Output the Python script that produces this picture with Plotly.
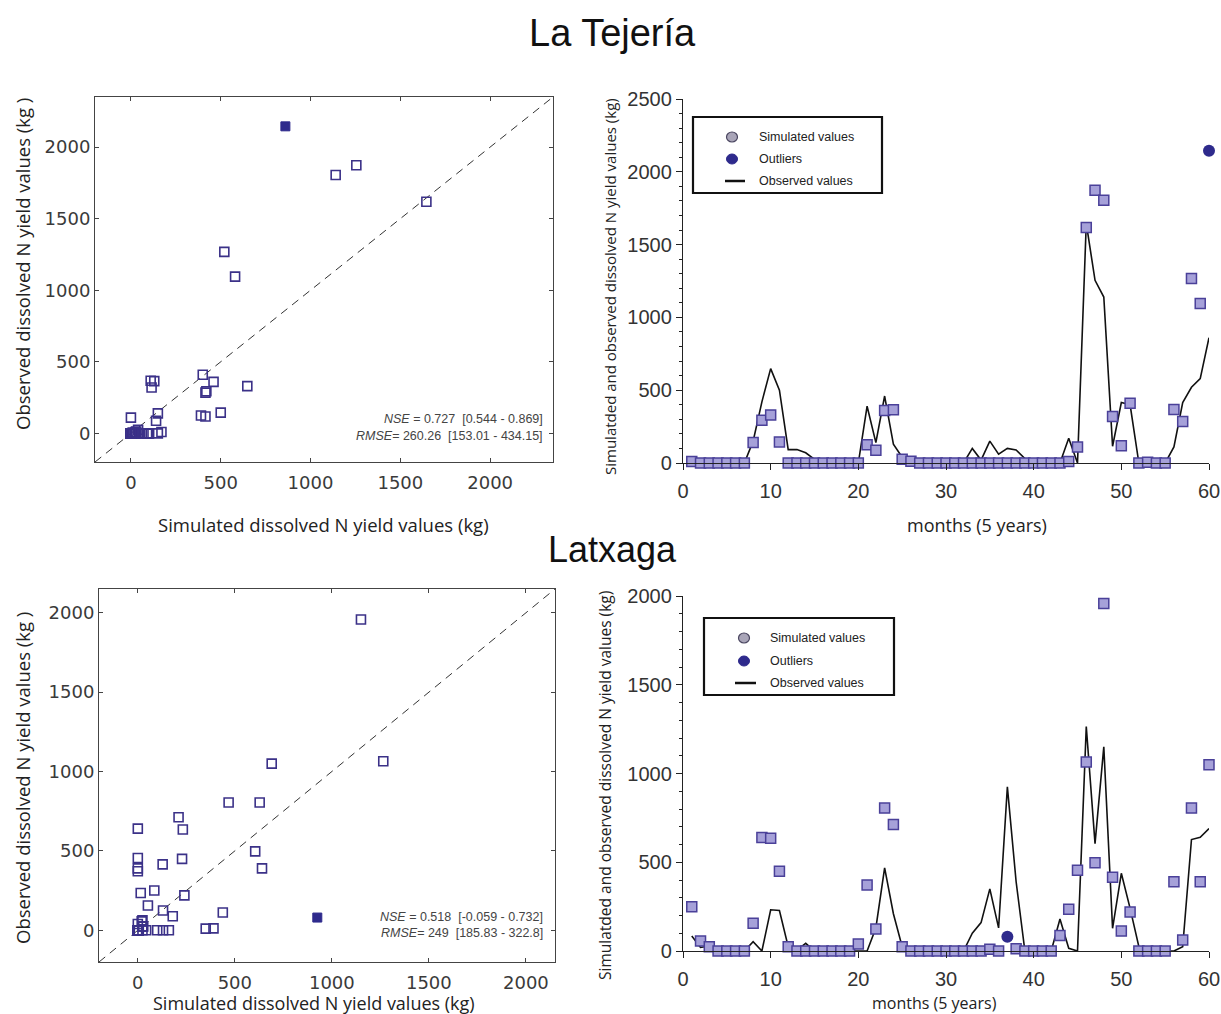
import plotly.graph_objects as go

# ---------------------------------------------------------------- data
months = list(range(1, 61))

# La Tejería: monthly N yield (kg) – markers and line series
tej_points = [10, 0, 0, 0, 0, 0, 0, 140, 294, 330,
              145, 0, 0, 0, 0, 0, 0, 0, 0, 0,
              125, 88, 360, 365, 25, 12, 0, 0, 0, 0,
              0, 0, 0, 0, 0, 0, 0, 0, 0, 0,
              0, 0, 0, 10, 110, 1618, 1873, 1805, 320, 118,
              410, 0, 5, 0, 0, 368, 285, 1268, 1095, 2145]
tej_line = [25, 20, 0, 0, 0, 0, 0, 150, 420, 648,
            500, 92, 92, 70, 25, 0, 0, 0, 0, 0,
            390, 140, 460, 130, 40, 30, 0, 0, 0, 0,
            0, 0, 100, 20, 150, 60, 100, 90, 30, 0,
            0, 0, 0, 170, 0, 1645, 1255, 1140, 115, 415,
            400, 0, 10, 0, 0, 110, 415, 520, 580, 860]
tej_outlier_month = 60
tej_stats = ["<i>NSE</i> = 0.727  [0.544 - 0.869]",
             "<i>RMSE</i>= 260.26  [153.01 - 434.15]"]

# Latxaga: monthly N yield (kg) – markers and line series
lat_points = [250, 56, 24, 0, 0, 0, 0, 156, 640, 635,
              450, 24, 0, 0, 0, 0, 0, 0, 0, 39,
              372, 124, 805, 712, 24, 0, 0, 0, 0, 0,
              0, 0, 0, 0, 10, 0, 80, 12, 0, 0,
              0, 0, 88, 235, 455, 1065, 497, 1958, 415, 112,
              220, 0, 0, 0, 0, 390, 62, 805, 390, 1050]
lat_line = [85, 20, 28, 0, 0, 0, 0, 52, 0, 232,
            228, 24, 5, 43, 0, 0, 0, 0, 0, 0,
            0, 130, 468, 210, 24, 0, 0, 0, 0, 0,
            0, 0, 100, 160, 350, 130, 925, 390, 0, 0,
            0, 0, 180, 15, 0, 1265, 605, 1150, 128, 438,
            240, 24, 0, 0, 0, 0, 24, 628, 640, 690]
lat_outlier_month = 37
lat_stats = ["<i>NSE</i> = 0.518  [-0.059 - 0.732]",
             "<i>RMSE</i>= 249  [185.83 - 322.8]"]

scatter_ticks = [0, 500, 1000, 1500, 2000]
month_ticks = [0, 10, 20, 30, 40, 50, 60]

legend_labels = ["Simulated values", "Outliers", "Observed values"]
site_names = ["La Tejería", "Latxaga"]

# ---------------------------------------------------------------- styling
W, H = 1221, 1014
FONT = "Liberation Sans, Arial, sans-serif"
WIDE_FONT = "DejaVu Sans, Verdana, sans-serif"
TITLE_FONT = "Open Sans, Noto Sans, sans-serif"
SQ_EDGE = "#3b3188"
TS_FILL = "#a6a1d9"
TS_EDGE = "#4a4099"
OUT_COL = "#2e2a8c"
AX_COL = "#444444"


def px(x):
    return x / W


def py(y):
    return 1 - y / H


fig = go.Figure()


def add_panel(n_sc, n_ts, pts, line, outlier_month, sc_range):
    sx, sy = ("x" if n_sc == 1 else f"x{n_sc}"), ("y" if n_sc == 1 else f"y{n_sc}")
    tx, ty = f"x{n_ts}", f"y{n_ts}"

    # 1:1 reference line
    fig.add_trace(go.Scatter(x=sc_range, y=sc_range, mode="lines",
                             line=dict(color="#333333", width=1, dash="8px,6px"),
                             xaxis=sx, yaxis=sy, showlegend=False, hoverinfo="skip"))

    normal = [(l, p) for m, l, p in zip(months, line, pts) if m != outlier_month]
    outl = [(l, p) for m, l, p in zip(months, line, pts) if m == outlier_month]
    fig.add_trace(go.Scatter(x=[a for a, _ in normal], y=[b for _, b in normal],
                             mode="markers",
                             marker=dict(symbol="square-open", size=9,
                                         color=SQ_EDGE, line=dict(width=1.6)),
                             xaxis=sx, yaxis=sy, showlegend=False, cliponaxis=False))
    fig.add_trace(go.Scatter(x=[a for a, _ in outl], y=[b for _, b in outl],
                             mode="markers",
                             marker=dict(symbol="square", size=9, color=OUT_COL,
                                         line=dict(width=1, color=OUT_COL)),
                             xaxis=sx, yaxis=sy, showlegend=False, cliponaxis=False))

    # time series: line, then markers on top
    fig.add_trace(go.Scatter(x=months, y=line, mode="lines",
                             line=dict(color="#111111", width=1.6),
                             xaxis=tx, yaxis=ty, showlegend=False, cliponaxis=False))
    nm = [m for m in months if m != outlier_month]
    fig.add_trace(go.Scatter(x=nm, y=[pts[m - 1] for m in nm], mode="markers",
                             marker=dict(symbol="square", size=10, color=TS_FILL,
                                         line=dict(width=1.5, color=TS_EDGE)),
                             xaxis=tx, yaxis=ty, showlegend=False, cliponaxis=False))
    fig.add_trace(go.Scatter(x=[outlier_month], y=[pts[outlier_month - 1]], mode="markers",
                             marker=dict(symbol="circle", size=12, color=OUT_COL,
                                         line=dict(width=0)),
                             xaxis=tx, yaxis=ty, showlegend=False, cliponaxis=False))


add_panel(1, 2, tej_points, tej_line, tej_outlier_month, [-200, 2350])
add_panel(3, 4, lat_points, lat_line, lat_outlier_month, [-200, 2150])

sc_axis = dict(showgrid=False, zeroline=False, showline=True, linecolor=AX_COL,
               linewidth=1, mirror="ticks", ticks="inside", ticklen=4,
               tickcolor=AX_COL, tickvals=scatter_ticks,
               tickfont=dict(family=WIDE_FONT, size=18, color="#3a3a3a"))
ts_axis = dict(showgrid=False, zeroline=False, showline=True, linecolor="#222222",
               linewidth=1.3, ticks="outside", ticklen=6, tickcolor="#222222",
               tickfont=dict(family=FONT, size=20, color="#333333"))

fig.update_layout(
    width=W, height=H, template="none",
    paper_bgcolor="white", plot_bgcolor="white",
    margin=dict(l=0, r=0, t=0, b=0), showlegend=False,
    xaxis=dict(sc_axis, domain=[px(95), px(553)], range=[-200, 2350], anchor="y",
               ticklabelstandoff=4),
    yaxis=dict(sc_axis, domain=[py(462), py(97)], range=[-200, 2350], anchor="x"),
    xaxis2=dict(ts_axis, domain=[px(683), px(1209)], range=[0, 60], anchor="y2",
                tickvals=month_ticks, ticklabelstandoff=4),
    yaxis2=dict(ts_axis, domain=[py(463), py(99)], range=[0, 2500], anchor="x2",
                dtick=500, minor=dict(dtick=100, ticks="outside", ticklen=3,
                                      tickcolor="#222222")),
    xaxis3=dict(sc_axis, domain=[px(99), px(555)], range=[-200, 2150], anchor="y3",
                ticklabelstandoff=4),
    yaxis3=dict(sc_axis, domain=[py(962), py(589)], range=[-200, 2150], anchor="x3"),
    xaxis4=dict(ts_axis, domain=[px(683), px(1209)], range=[0, 60], anchor="y4",
                tickvals=month_ticks, ticklabelstandoff=4),
    yaxis4=dict(ts_axis, domain=[py(951), py(596)], range=[0, 2000], anchor="x4",
                dtick=500, minor=dict(dtick=100, ticks="outside", ticklen=3,
                                      tickcolor="#222222")),
)

ann = []
shapes = []


def text(x, y, s, size, family=TITLE_FONT, angle=0, color="#222222", xanchor="center"):
    ann.append(dict(x=px(x), y=py(y), xref="paper", yref="paper", text=s,
                    showarrow=False, textangle=angle, xanchor=xanchor, yanchor="middle",
                    font=dict(family=family, size=size, color=color)))


# site titles
text(612, 33, site_names[0], 38, family=FONT, color="#111111")
text(612, 549, site_names[1], 36, family=FONT, color="#111111")

# axis titles
sc_y = "Observed dissolved N yield values (kg )"
sc_x = "Simulated dissolved N yield values (kg)"
ts_y = "Simulatded and observed dissolved N yield values (kg)"
ts_x = "months (5 years)"
text(22, 264, sc_y, 18.5, angle=-90)
text(323, 524, sc_x, 18.5)
text(610, 287, ts_y, 15, angle=-90)
text(977, 525, ts_x, 18)
text(22, 778, sc_y, 18.5, angle=-90)
text(314, 1003, sc_x, 18)
text(605, 786, ts_y, 15.5, angle=-90)
text(935, 1003, ts_x, 16)

# statistics inside the scatter panels
for (y1, y2), lines in (((419, 436), tej_stats), ((917, 933), lat_stats)):
    text(545, y1, lines[0], 12.5, family=FONT, color="#444444", xanchor="right")
    text(545, y2, lines[1], 12.5, family=FONT, color="#444444", xanchor="right")


# legends drawn as boxed keys
def legend(x0, y0, x1, y1, cx, rows, lx0, lx1, tx):
    shapes.append(dict(type="rect", xref="paper", yref="paper",
                       x0=px(x0), x1=px(x1), y0=py(y1), y1=py(y0),
                       line=dict(color="#111111", width=2.2), fillcolor="white"))
    r = 5.5
    shapes.append(dict(type="circle", xref="paper", yref="paper",
                       x0=px(cx - r), x1=px(cx + r), y0=py(rows[0] + 5), y1=py(rows[0] - 5),
                       fillcolor="#a9a5b8", line=dict(color="#4a4660", width=1.2)))
    shapes.append(dict(type="circle", xref="paper", yref="paper",
                       x0=px(cx - r), x1=px(cx + r), y0=py(rows[1] + 5), y1=py(rows[1] - 5),
                       fillcolor=OUT_COL, line=dict(color=OUT_COL, width=1)))
    shapes.append(dict(type="line", xref="paper", yref="paper",
                       x0=px(lx0), x1=px(lx1), y0=py(rows[2]), y1=py(rows[2]),
                       line=dict(color="#111111", width=2.5)))
    for yy, lab in zip(rows, legend_labels):
        text(tx, yy, lab, 12.5, family=FONT, color="#222222", xanchor="left")


legend(693, 117, 882, 193, 732, [137, 159, 181], 725, 745, 757)
legend(704, 618, 894, 695, 744, [638, 661, 683], 735, 756, 768)

fig.update_layout(annotations=ann, shapes=shapes)
fig.write_html("out.html")
